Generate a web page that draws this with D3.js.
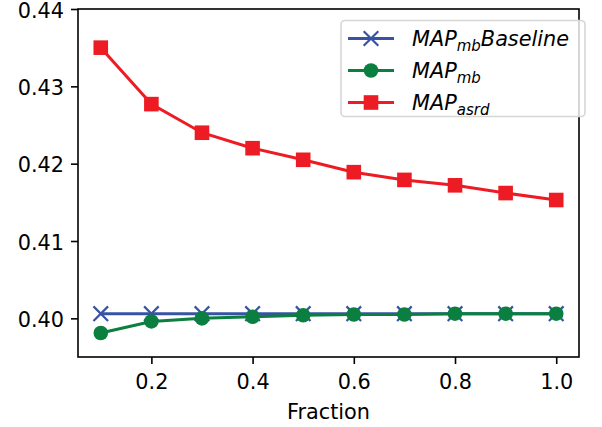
<!DOCTYPE html>
<html>
<head>
    <title>MAP vs Fraction</title>
    <script src="https://d3js.org/d3.v7.min.js"></script>
    <style>
        body { margin: 0; background: #fff; }
        text { font-family: 'DejaVu Sans', sans-serif; }
    </style>
</head>
<body>

<script>
const fractions = [0.1, 0.2, 0.3, 0.4, 0.5, 0.6, 0.7, 0.8, 0.9, 1.0];
const mapMbBaseline = [0.4006, 0.4006, 0.4006, 0.4006, 0.4006, 0.4006, 0.4006, 0.4006, 0.4006, 0.4006];
const mapMb = [0.3981, 0.3996, 0.4000, 0.4002, 0.4004, 0.4005, 0.4005, 0.4006, 0.4006, 0.4006];
const mapAsrd = [0.4350, 0.4277, 0.4240, 0.4220, 0.4205, 0.4189, 0.4179, 0.4172, 0.4162, 0.4153];
const xTicks = [0.2, 0.4, 0.6, 0.8, 1.0];
const yTicks = [0.40, 0.41, 0.42, 0.43, 0.44];

const series = [
    { name: 'MAP', sub: 'mb', suffix: 'Baseline', values: mapMbBaseline, color: '#3953a4', marker: 'x' },
    { name: 'MAP', sub: 'mb', suffix: '', values: mapMb, color: '#0a7f3f', marker: 'circle' },
    { name: 'MAP', sub: 'asrd', suffix: '', values: mapAsrd, color: '#ed1c24', marker: 'square' }
];

const width = 602, height = 427;
const margin = { top: 9, right: 23, bottom: 70, left: 78 };
const fs = 20.8;

const svg = d3.select('body')
    .append('svg')
    .attr('width', width)
    .attr('height', height);

const x = d3.scaleLinear()
    .domain([0.055, 1.045])
    .range([margin.left, width - margin.right]);

const y = d3.scaleLinear()
    .domain([0.395, 0.44])
    .range([height - margin.bottom, margin.top]);

// axes
svg.append('g')
    .attr('transform', `translate(0,${height - margin.bottom})`)
    .call(d3.axisBottom(x).tickValues(xTicks).tickFormat(d3.format('.1f')).tickSize(7).tickPadding(10))
    .call(g => g.select('.domain').remove())
    .call(g => g.selectAll('line').attr('stroke', '#000').attr('stroke-width', 1.6))
    .call(g => g.selectAll('text').attr('font-size', fs).attr('fill', '#000'));

svg.append('g')
    .attr('transform', `translate(${margin.left},0)`)
    .call(d3.axisLeft(y).tickValues(yTicks).tickFormat(d3.format('.2f')).tickSize(7).tickPadding(7))
    .call(g => g.select('.domain').remove())
    .call(g => g.selectAll('line').attr('stroke', '#000').attr('stroke-width', 1.6))
    .call(g => g.selectAll('text').attr('font-size', fs).attr('fill', '#000').attr('dy', '0.4em'));

// frame
svg.append('rect')
    .attr('x', margin.left)
    .attr('y', margin.top)
    .attr('width', width - margin.right - margin.left)
    .attr('height', height - margin.bottom - margin.top)
    .attr('fill', 'none')
    .attr('stroke', '#000')
    .attr('stroke-width', 1.6);

svg.append('text')
    .attr('x', (margin.left + width - margin.right) / 2)
    .attr('y', 419)
    .attr('text-anchor', 'middle')
    .attr('font-size', fs)
    .text('Fraction');

function drawMarker(g, type, cx, cy, color) {
    const s = 7.3;
    if (type === 'x') {
        g.append('path')
            .attr('d', `M${cx - s},${cy - s}L${cx + s},${cy + s}M${cx - s},${cy + s}L${cx + s},${cy - s}`)
            .attr('stroke', color)
            .attr('stroke-width', 2.2)
            .attr('fill', 'none');
    } else if (type === 'circle') {
        g.append('circle')
            .attr('cx', cx).attr('cy', cy).attr('r', s)
            .attr('fill', color);
    } else {
        g.append('rect')
            .attr('x', cx - s).attr('y', cy - s)
            .attr('width', 2 * s).attr('height', 2 * s)
            .attr('fill', color);
    }
}

const line = d3.line()
    .x(d => x(d[0]))
    .y(d => y(d[1]));

series.forEach(s => {
    const pts = fractions.map((f, i) => [f, s.values[i]]);
    const g = svg.append('g');
    g.append('path')
        .attr('d', line(pts))
        .attr('fill', 'none')
        .attr('stroke', s.color)
        .attr('stroke-width', 3);
    pts.forEach(p => drawMarker(g, s.marker, x(p[0]), y(p[1]), s.color));
});

// legend
const legend = svg.append('g');
legend.append('rect')
    .attr('x', 341)
    .attr('y', 20.5)
    .attr('width', 244)
    .attr('height', 96)
    .attr('rx', 4)
    .attr('fill', 'rgba(255,255,255,0.8)')
    .attr('stroke', '#d6d6d6')
    .attr('stroke-width', 1.6);

series.forEach((s, i) => {
    const ly = 38.5 + i * 32;
    legend.append('line')
        .attr('x1', 348).attr('x2', 394)
        .attr('y1', ly).attr('y2', ly)
        .attr('stroke', s.color)
        .attr('stroke-width', 3);
    drawMarker(legend, s.marker, 371, ly, s.color);
    const t = legend.append('text')
        .attr('x', 412)
        .attr('y', ly + 7.5)
        .attr('font-size', fs)
        .attr('font-style', 'italic');
    t.append('tspan').text(s.name);
    t.append('tspan').attr('font-size', 15).attr('dy', 4.5).text(s.sub);
    if (s.suffix) t.append('tspan').attr('dy', -4.5).text(s.suffix);
});
</script>

</body>
</html>
